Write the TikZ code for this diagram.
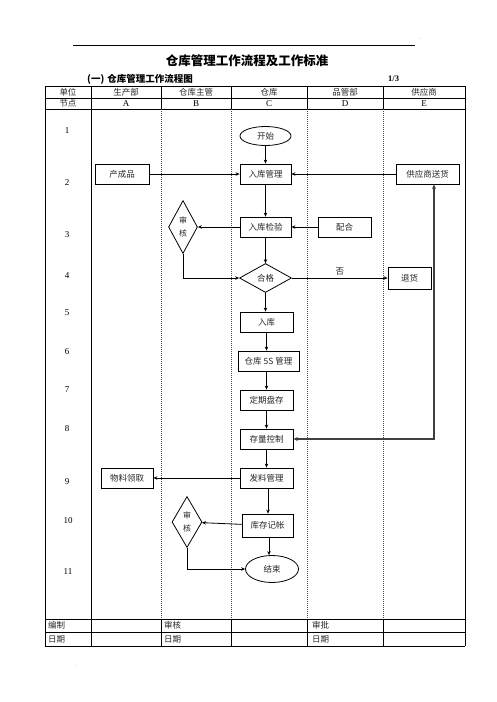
\documentclass[tikz,border=0pt]{standalone}
\usepackage{fontspec}
\setmainfont{Liberation Serif}
\newfontfamily\cjk{Noto Sans CJK SC}
\usetikzlibrary{shapes.geometric,arrows.meta,calc}
\begin{document}
\begin{tikzpicture}[x=1pt,y=-1pt,
  zh/.style={font=\cjk\fontsize{8.5}{10}\selectfont,text=black!85,inner sep=0pt},
  box/.style={zh,draw,line width=0.8pt,minimum width=#1,minimum height=20pt},
  box/.default=51pt,
  oval/.style={zh,draw,line width=0.8pt,ellipse,minimum width=#1,minimum height=19pt},
  dia/.style={draw,line width=0.8pt,diamond,inner sep=0pt,minimum width=29pt,minimum height=53pt},
  num/.style={font=\fontsize{9}{10}\selectfont,inner sep=0pt},
  arr/.style={line width=0.8pt,-{Stealth[length=4pt,width=3.5pt]}},
  garr/.style={line width=1.1pt,draw=black!75,{Stealth[length=4.5pt,width=4pt]}-{Stealth[length=4.5pt,width=4pt]}},
  grid/.style={line width=0.8pt},
  lane/.style={line width=0.5pt,draw=black!70,dash pattern=on 1pt off 1pt}]
\useasboundingbox (0,0) rectangle (496,702);
% top rule and title
\draw[line width=0.8pt] (73,45) -- (415,45);
\node[inner sep=0pt,font=\fontsize{5}{5}\selectfont,text=black!50] (mk1) at (420,40) {'};
\node[inner sep=0pt,font=\cjk\bfseries\fontsize{12.5}{14}\selectfont] (title) at (247,61) {仓库管理工作流程及工作标准};
\node[anchor=west,inner sep=0pt,font=\cjk\bfseries\fontsize{9.5}{11}\selectfont] (sub) at (87,79) {(一)\hspace{3pt}仓库管理工作流程图};
\node[anchor=west,inner sep=0pt,font=\bfseries\fontsize{8.5}{10}\selectfont] (pg) at (388,79) {1/3};
% table
\foreach \y in {86,98,109,619,632,646} \draw[grid] (45,\y) -- (465,\y);
\draw[grid] (45,86) -- (45,646);
\draw[grid] (465,86) -- (465,646);
\draw[grid] (91,86) -- (91,646);
\foreach \x in {161,231,307,383} {
  \draw[grid] (\x,86) -- (\x,109);
  \draw[lane] (\x,109) -- (\x,619);
  \draw[grid] (\x,619) -- (\x,646);
}
% header
\node[zh] (h0) at (68,92) {单位};
\node[zh] (h1) at (126,92) {生产部};
\node[zh] (h2) at (196,92) {仓库主管};
\node[zh] (h3) at (269,92) {仓库};
\node[zh] (h4) at (345,92) {品管部};
\node[zh] (h5) at (424,92) {供应商};
\node[zh] (n0) at (68,103.5) {节点};
\node[num] (nA) at (126,103.5) {A};
\node[num] (nB) at (196,103.5) {B};
\node[num] (nC) at (269,103.5) {C};
\node[num] (nD) at (345,103.5) {D};
\node[num] (nE) at (424,103.5) {E};
% row numbers
\node[num] (r1) at (67,131) {1};
\node[num] (r2) at (67,183) {2};
\node[num] (r3) at (67,235) {3};
\node[num] (r4) at (67,276) {4};
\node[num] (r5) at (67,313) {5};
\node[num] (r6) at (67,352) {6};
\node[num] (r7) at (67,390) {7};
\node[num] (r8) at (67,429) {8};
\node[num] (r9) at (67,482) {9};
\node[num] (r10) at (68,521) {10};
\node[num] (r11) at (68,572) {11};
% footer
\node[zh,anchor=west] (f1) at (48,625.5) {编制};
\node[zh,anchor=west] (f2) at (48,639) {日期};
\node[zh,anchor=west] (f3) at (164,625.5) {审核};
\node[zh,anchor=west] (f4) at (164,639) {日期};
\node[zh,anchor=west] (f5) at (312,625.5) {审批};
\node[zh,anchor=west] (f6) at (312,639) {日期};
\node[inner sep=0pt,font=\fontsize{5}{5}\selectfont,text=black!50] (mk2) at (77,665) {:};
% flow nodes
\node[oval=51pt] (start) at (265.5,136) {开始};
\node[box] (rkgl) at (265.5,174) {入库管理};
\node[box=54pt] (ccp) at (122,174) {产成品};
\node[box=63pt] (gys) at (427.5,174) {供应商送货};
\node[dia] (sh1) at (183,227) {};
\node[zh,align=center,font=\cjk\fontsize{8}{13}\selectfont] (sh1t) at (183,227) {审\\核};
\node[box] (rkjy) at (265.5,227) {入库检验};
\node[box=53pt] (ph) at (344.5,227) {配合};
\node[zh,draw,line width=0.8pt,diamond,minimum width=52pt,minimum height=29pt] (hg) at (265.5,278) {合格};
\node[box=43pt,minimum height=22pt] (th) at (409.5,278) {退货};
\node[box=53pt] (rk) at (266.5,322) {入库};
\node[box=61pt] (ss) at (268.5,361) {仓库 5S 管理};
\node[box=53pt] (dq) at (266.5,400) {定期盘存};
\node[box=53pt] (kz) at (266.5,439) {存量控制};
\node[box=53pt] (fl) at (266.5,478) {发料管理};
\node[box=52pt] (wl) at (127,478) {物料领取};
\node[dia,minimum width=30pt,minimum height=51pt] (sh2) at (187,522) {};
\node[zh,align=center,font=\cjk\fontsize{8}{13}\selectfont] (sh2t) at (187,522) {审\\核};
\node[box=51pt,minimum height=23pt] (kc) at (267.5,525.5) {库存记帐};
\node[oval=53pt,minimum height=27pt] (end) at (272,569) {结束};
% connectors
\draw[arr] (start.south) -- (start.south |- rkgl.north);
\draw[arr] (ccp) -- (rkgl);
\draw[arr] (gys) -- (rkgl);
\draw[arr] (rkgl) -- (rkjy);
\draw[arr] (rkjy) -- (sh1);
\draw[arr] (ph) -- (rkjy);
\draw[arr] (rkjy.south) -- (rkjy.south |- hg.north);
\draw[arr] (sh1.south) |- (hg.west);
\draw[arr] (hg) -- node[zh,above=2pt] (no) {否} (th);
\draw[arr] (hg.south) -- (hg.south |- rk.north);
\draw[arr] (rk.south) -- (rk.south |- ss.north);
\draw[arr] (dq.north |- ss.south) -- (dq.north);
\draw[arr] (dq) -- (kz);
\draw[arr] (kz) -- (fl);
\draw[garr] (kz.east) -| ([xshift=6.5pt]gys.south);
\draw[arr] (fl) -- (wl);
\draw[arr] ([xshift=1.5pt]fl.south) -- ([xshift=1.5pt]fl.south |- kc.north);
\draw[arr] (kc) -- (sh2);
\draw[arr] ([xshift=1.5pt]kc.south) -- ([xshift=1.5pt]kc.south |- end.north);
\draw[arr] (sh2.south) |- (end.west);
\end{tikzpicture}
\end{document}
